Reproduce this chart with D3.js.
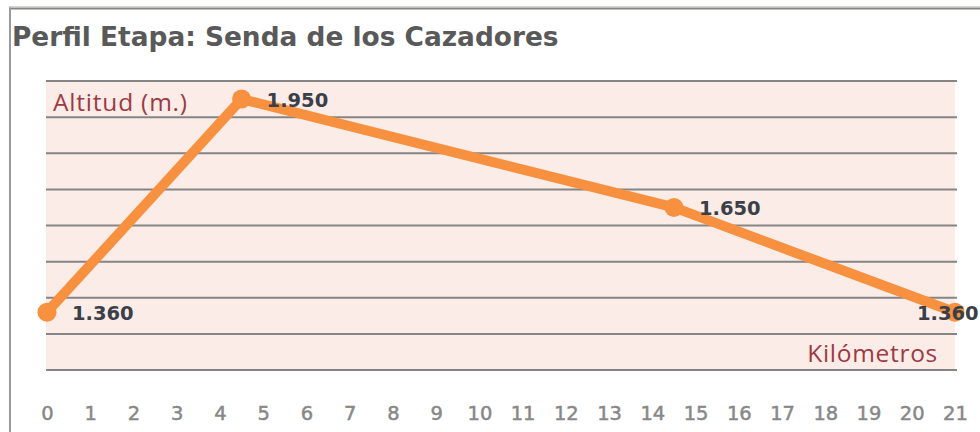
<!DOCTYPE html>
<html>
<head>
<meta charset="utf-8">
<script src="https://d3js.org/d3.v7.min.js"></script>
<style>
  body { margin: 0; background: #fff; }
  svg { display: block; }
</style>
</head>
<body>
<svg id="drawing_region"></svg>
<script>
// km along the route and altitude (m.)
const km = [0, 4.5, 14.5, 21]
const altitud = [1360, 1950, 1650, 1360]
const etiquetas = ['1.360', '1.950', '1.650', '1.360']
const xTicks = d3.range(0, 22)
const yGrid = [1200, 1300, 1400, 1500, 1600, 1700, 1800, 1900, 2000]

class PerfilChart{
    constructor(config, data){
        this.config = {
            parent: config.parent,
            width: config.width || 980,
            height: config.height || 432,
            plot: config.plot
        }
        this.data = data
        this.init()
    }

    init(){
        let self = this
        self.svg = d3.select(self.config.parent)
            .attr('width', self.config.width)
            .attr('height', self.config.height)

        // frame of the original picture (only top and left visible)
        self.svg.append('line').attr('x1', 9).attr('x2', self.config.width).attr('y1', 6.5).attr('y2', 6.5)
            .attr('stroke', '#d6d3cb').attr('stroke-width', 1)
        self.svg.append('line').attr('x1', 9).attr('x2', self.config.width).attr('y1', 8.5).attr('y2', 8.5)
            .attr('stroke', '#858585').attr('stroke-width', 2)
        self.svg.append('line').attr('x1', 10).attr('x2', 10).attr('y1', 7.5).attr('y2', self.config.height)
            .attr('stroke', '#9a9a9a').attr('stroke-width', 2)

        const p = self.config.plot
        self.xscale = d3.scaleLinear().domain([0, 21]).range([p.left, p.right])
        self.yscale = d3.scaleLinear().domain([1200, 2000]).range([p.bottom, p.top])

        self.bg = self.svg.append('g')
        self.grid = self.svg.append('g')
        self.marks = self.svg.append('g')
        self.labels = self.svg.append('g')
    }

    update(){
        this.render()
    }

    render(){
        let self = this
        const p = self.config.plot

        self.svg.append('text')
            .attr('x', 12).attr('y', 46)
            .attr('font-family', 'DejaVu Sans, Verdana, sans-serif')
            .attr('font-weight', 'bold')
            .attr('font-size', 26.4)
            .attr('fill', '#595959')
            .text('Perfil Etapa: Senda de los Cazadores')

        self.bg.append('rect')
            .attr('x', p.left - 1)
            .attr('y', self.yscale(2000))
            .attr('width', p.right - p.left + 1)
            .attr('height', self.yscale(1200) - self.yscale(2000))
            .attr('fill', '#fcece7')

        self.grid.selectAll('line').data(yGrid).enter()
            .append('line')
            .attr('x1', p.left - 1).attr('x2', p.right + 2)
            .attr('y1', d => self.yscale(d)).attr('y2', d => self.yscale(d))
            .attr('stroke', '#858585')
            .attr('stroke-width', 2)

        const xaxis = d3.axisBottom(self.xscale).tickValues(xTicks).tickSize(0).tickPadding(0)
        const xg = self.svg.append('g')
            .attr('transform', `translate(0, ${p.axisY})`)
            .call(xaxis)
        xg.select('.domain').remove()
        xg.selectAll('text')
            .attr('font-family', 'DejaVu Sans, Verdana, sans-serif')
            .attr('font-size', 19.5)
            .attr('fill', '#888')
            .attr('stroke', '#888').attr('stroke-width', 0.5)
            .attr('dy', 0)

        const pts = km.map((k, i) => ({km: k, alt: altitud[i], label: etiquetas[i]}))
        const line = d3.line().x(d => self.xscale(d.km)).y(d => self.yscale(d.alt))

        self.marks.append('path')
            .datum(pts)
            .attr('d', line)
            .attr('fill', 'none')
            .attr('stroke', '#f7903f')
            .attr('stroke-width', 10)
            .attr('stroke-linejoin', 'round')

        self.marks.selectAll('circle').data(pts).enter()
            .append('circle')
            .attr('cx', d => self.xscale(d.km))
            .attr('cy', d => self.yscale(d.alt))
            .attr('r', 9.5)
            .attr('fill', '#f7903f')

        // last label is pushed inside so it stays in the picture
        self.labels.selectAll('text').data(pts).enter()
            .append('text')
            .attr('x', (d, i) => self.xscale(d.km) + (i === pts.length - 1 ? -38 : 25))
            .attr('y', d => self.yscale(d.alt) + 1)
            .attr('dy', '0.36em')
            .attr('font-family', 'DejaVu Sans, Verdana, sans-serif')
            .attr('font-weight', 'bold')
            .attr('font-size', 19.5)
            .attr('fill', '#3a3f48')
            .text(d => d.label)

        self.svg.append('text')
            .attr('x', 53).attr('y', 111)
            .attr('font-family', 'Open Sans, Lato, sans-serif')
            .attr('font-size', 24.5)
            .attr('letter-spacing', 0.8)
            .attr('fill', '#9d3a44')
            .text('Altitud (m.)')

        self.svg.append('text')
            .attr('x', 938).attr('y', 362)
            .attr('text-anchor', 'end')
            .attr('font-family', 'Open Sans, Lato, sans-serif')
            .attr('font-size', 24.5)
            .attr('letter-spacing', 0.7)
            .attr('fill', '#9d3a44')
            .text('Kilómetros')
    }
}

const config = {
    parent: '#drawing_region',
    width: 980,
    height: 432,
    plot: {left: 47, right: 955, top: 81, bottom: 370, axisY: 420}
}
const chart = new PerfilChart(config, {km, altitud})
chart.update()
</script>
</body>
</html>
